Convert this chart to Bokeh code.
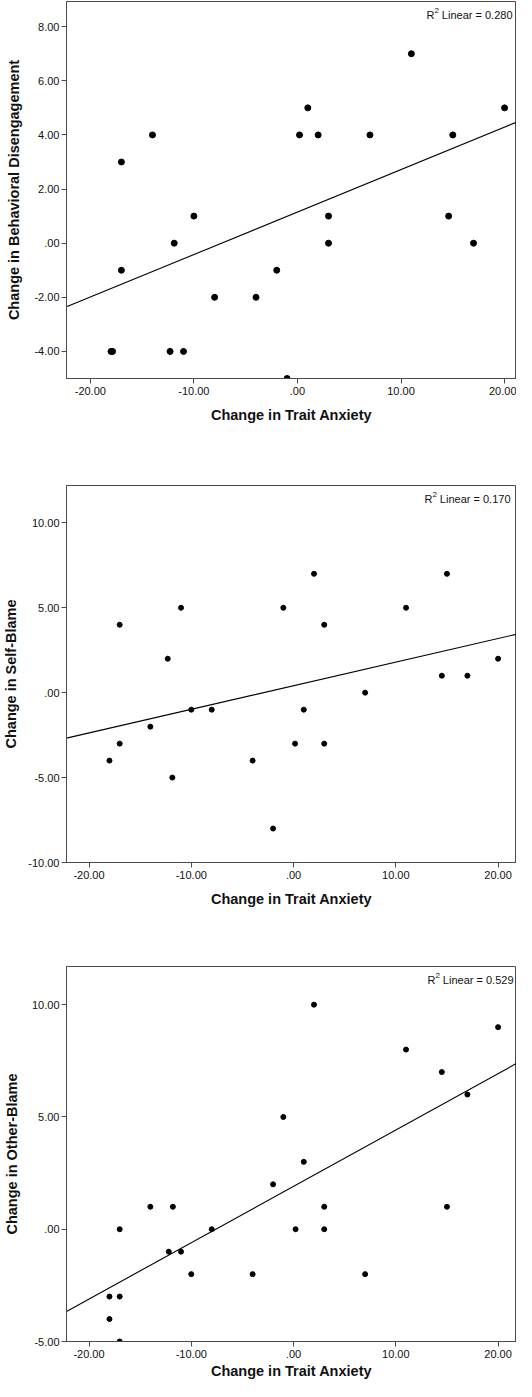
from bokeh.plotting import figure
from bokeh.layouts import column
from bokeh.models import FixedTicker, Label, Range1d
from bokeh.embed import file_html
from bokeh.resources import INLINE

FONT = "Liberation Sans"
AX = "#4a4a4a"

# shared x axis
x_title = "Change in Trait Anxiety"
x_ticks = [-20, -10, 0, 10, 20]
x_tick_labels = ["-20.00", "-10.00", ".00", "10.00", "20.00"]

# Plot 1: Behavioral Disengagement
bd_title = "Change in Behavioral Disengagement"
bd_x = [-18, -17.85, -17, -17, -14, -12.3, -11.9, -11, -10, -8, -4, -2, -1,
        0.2, 1, 2, 3, 3, 7, 11, 14.6, 15, 17, 20]
bd_y = [-4, -4, 3, -1, 4, -4, 0, -4, 1, -2, -2, -1, -5,
        4, 5, 4, 1, 0, 4, 7, 1, 4, 0, 5]
bd_yticks = [-4, -2, 0, 2, 4, 6, 8]
bd_ytick_labels = ["-4.00", "-2.00", ".00", "2.00", "4.00", "6.00", "8.00"]
bd_intercept, bd_slope = 1.15, 0.157
bd_r2 = "0.280"

# Plot 2: Self-Blame
sb_title = "Change in Self-Blame"
sb_x = [-18, -17, -17, -14, -12.3, -11.85, -11, -10, -8, -4, -2, -1,
        0.15, 1, 2, 3, 3, 7, 11, 14.5, 15, 17, 20]
sb_y = [-4, 4, -3, -2, 2, -5, 5, -1, -1, -4, -8, 5,
        -3, -1, 7, 4, -3, 0, 5, 1, 7, 1, 2]
sb_yticks = [-10, -5, 0, 5, 10]
sb_ytick_labels = ["-10.00", "-5.00", ".00", "5.00", "10.00"]
sb_intercept, sb_slope = 0.41, 0.139
sb_r2 = "0.170"

# Plot 3: Other-Blame
ob_title = "Change in Other-Blame"
ob_x = [-18, -18, -17, -17, -17, -14, -12.2, -11.8, -11, -10, -8, -4, -2,
        -1, 0.2, 1, 2, 3, 3, 7, 11, 14.5, 15, 17, 20]
ob_y = [-3, -4, 0, -3, -5, 1, -1, 1, -1, -2, 0, -2, 2,
        5, 0, 3, 10, 1, 0, -2, 8, 7, 1, 6, 9]
ob_yticks = [-5, 0, 5, 10]
ob_ytick_labels = ["-5.00", ".00", "5.00", "10.00"]
ob_intercept, ob_slope = 1.91, 0.251
ob_r2 = "0.529"


def make(xs, ys, xr, yr, yticks, ylabels, ytitle, b0, b1, r2,
         height, top, bottom, dot, ystand, xstand, rx):
    p = figure(width=516, height=height, output_backend="svg",
               toolbar_location=None, x_range=Range1d(*xr), y_range=Range1d(*yr),
               min_border_left=58, min_border_right=0,
               min_border_top=top, min_border_bottom=bottom)
    p.grid.visible = False
    p.outline_line_color = AX
    p.outline_line_width = 1
    p.background_fill_color = "white"
    p.border_fill_color = "white"

    p.xaxis.ticker = FixedTicker(ticks=x_ticks)
    p.xaxis.major_label_overrides = dict(zip(x_ticks, x_tick_labels))
    p.yaxis.ticker = FixedTicker(ticks=yticks)
    p.yaxis.major_label_overrides = dict(zip(yticks, ylabels))
    p.xaxis.axis_label = x_title
    p.yaxis.axis_label = ytitle
    for ax in (p.xaxis, p.yaxis):
        ax.axis_line_color = AX
        ax.major_tick_line_color = AX
        ax.major_tick_out = 5
        ax.major_tick_in = 0
        ax.minor_tick_out = 0
        ax.minor_tick_in = 0
        ax.major_label_text_font = FONT
        ax.major_label_text_font_size = "11px"
        ax.major_label_text_color = "#111111"
        ax.axis_label_text_font = FONT
        ax.axis_label_text_font_size = "14.5px"
        ax.axis_label_text_font_style = "bold"
        ax.axis_label_text_color = "#111111"
    p.xaxis.major_label_standoff = 3
    p.xaxis.axis_label_standoff = xstand
    p.yaxis.major_label_standoff = 2
    p.yaxis.axis_label_standoff = ystand

    x0, x1 = xr
    p.line([x0, x1], [b0 + b1 * x0, b0 + b1 * x1], line_color="black", line_width=1.1)
    p.scatter(xs, ys, size=dot, color="black", marker="circle")

    main = Label(x=x1, y=yr[1], x_offset=rx, y_offset=-13, text="Linear = " + r2,
                 text_align="right", text_baseline="middle", text_font=FONT,
                 text_font_size="11px", text_color="#111111")
    sup = Label(x=x1, y=yr[1], x_offset=rx - 73.5, y_offset=-9, text="2",
                text_align="right", text_baseline="middle", text_font=FONT,
                text_font_size="8px", text_color="#111111")
    rr = Label(x=x1, y=yr[1], x_offset=rx - 78, y_offset=-13, text="R",
               text_align="right", text_baseline="middle", text_font=FONT,
               text_font_size="11px", text_color="#111111")
    for lab in (main, sup, rr):
        p.add_layout(lab)
    return p


p1 = make(bd_x, bd_y, (-22.3, 21.15), (-5, 8.93), bd_yticks, bd_ytick_labels, bd_title,
          bd_intercept, bd_slope, bd_r2, 445, 1, 67, 6, 9, 9, -4)
p2 = make(sb_x, sb_y, (-22.2, 21.8), (-10, 12.2), sb_yticks, sb_ytick_labels, sb_title,
          sb_intercept, sb_slope, sb_r2, 481, 40, 64, 5, 6, 9, -6)
p3 = make(ob_x, ob_y, (-22.2, 21.8), (-5, 11.7), ob_yticks, ob_ytick_labels, ob_title,
          ob_intercept, ob_slope, ob_r2, 455, 40, 38, 5, 9, 2, -3)

layout = column(p1, p2, p3, spacing=0)
open("out.html", "w").write(file_html(layout, INLINE))
